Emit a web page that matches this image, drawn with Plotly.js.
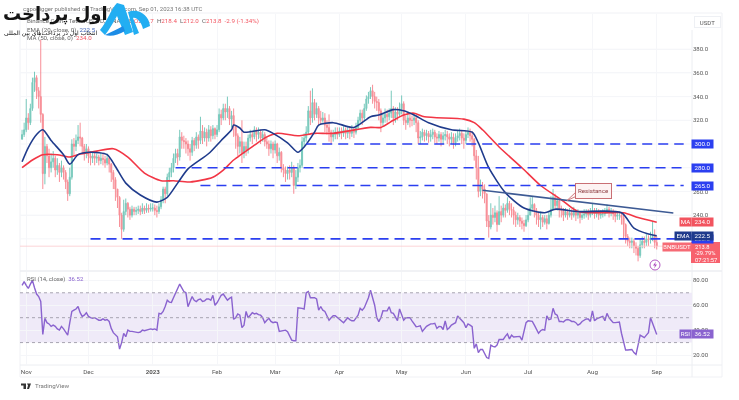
<!DOCTYPE html>
<html><head><meta charset="utf-8">
<script src="https://cdn.plot.ly/plotly-3.0.1.min.js"></script>
<style>
html,body{margin:0;padding:0;background:#fff;width:739px;height:400px;overflow:hidden}
#wrap{position:relative;width:739px;height:400px;filter:blur(0.55px)}
#chart{position:absolute;left:0;top:0;width:739px;height:400px}
#over{position:absolute;left:0;top:0;width:739px;height:400px;pointer-events:none}
</style></head><body>
<div id="wrap"><div id="chart"></div>
<svg id="over" viewBox="0 0 739 400">
  <path d="M100,30 C107,22 111,9 117,3 L124,5 L133,32 L125,35 L117,16 C113,23 109,30 105,35 Z" fill="#22aef2"/>
  <path d="M105,35 C111,32 118,29 123,26 L125,31 C118,35 111,37 105,35 Z" fill="#1c8ce6"/>
  <path d="M128,12 C138,8 149,15 150,26 L143,29 C141,21 136,17 133,18 L139,33 L134,35 Z" fill="#22aef2"/>
  <circle cx="655" cy="265" r="5" fill="#fff" stroke="#ab47bc" stroke-width="0.9"/>
  <path d="M656,261.5 L653,265.5 L655,265.5 L654,268.5 L657,264.5 L655,264.5 Z" fill="#ab47bc"/>
  <path d="M21,383.5 H26 V389 H23.5 V385.5 H21 Z M27,383.5 H31 L29,389 H27 L28,385.5 Z" fill="#333"/>
</svg>
</div>
<script>
const closes=[
308,312,322,318,330,352,356,345,340,325,
275,298,290,280,285,288,278,282,276,280,
276,268,258,272,300,298,303,306,305,298,
292,296,290,288,290,288,289,286,288,287,
284,288,283,276,270,262,255,240,228,243,
250,245,240,245,243,244,245,243,246,244,
246,245,246,246,244,243,247,253,262,258,
272,276,280,288,292,289,306,303,302,300,
296,293,303,299,306,303,311,305,310,305,
312,307,313,308,312,325,322,330,327,330,
321,324,315,307,298,302,292,298,295,305,
308,306,312,308,310,305,308,302,300,296,
300,295,300,290,293,280,278,275,278,276,
280,265,272,280,282,302,305,310,328,322,
335,325,330,322,320,322,316,314,310,306,
308,310,308,311,309,312,309,311,309,312,
310,314,320,326,322,330,338,340,345,340,
336,335,328,318,322,325,323,326,330,322,
327,325,330,334,320,318,322,320,320,322,
318,305,306,310,307,309,306,308,310,306,
305,308,304,307,308,306,304,306,301,305,
307,309,305,303,308,310,307,304,290,280,
260,265,262,258,235,230,240,238,242,232,
243,240,246,244,250,245,244,240,236,238,
235,233,231,236,240,246,249,244,240,236,
238,234,237,233,240,245,255,248,252,245,
244,240,243,240,242,240,243,240,242,238,
240,241,242,240,243,244,241,243,240,241,
241,243,245,242,243,241,239,240,240,238,
232,222,218,217,218,214,212,206,215,218,
217,220,219,221,222,217,213.8];
const highs=[
312,318,338,326,334,356,361,358,348,388,
326,306,300,296,292,294,290,288,284,286,
282,278,270,280,304,305,308,316,318,306,
300,300,298,294,294,293,292,291,293,292,
290,292,289,284,278,272,262,256,242,253,
254,251,247,248,247,247,248,248,250,248,
250,249,250,250,249,248,250,256,264,264,
275,280,284,292,296,296,312,310,307,305,
303,300,306,305,310,308,323,316,314,313,
316,315,316,314,316,330,329,334,334,340,
332,328,330,316,309,306,320,302,302,308,
312,311,315,314,314,312,311,310,306,303,
303,302,303,301,297,294,283,281,281,282,
285,282,278,284,287,306,309,315,332,345,
347,338,335,332,328,327,326,320,325,312,
312,314,314,314,314,315,314,315,315,316,
314,318,323,329,329,334,341,344,348,350,
344,340,338,330,326,330,329,330,345,332,
331,331,335,341,336,324,326,325,324,326,
324,320,311,313,312,312,311,312,313,312,
309,311,310,310,312,311,309,310,309,309,
311,313,312,309,311,314,313,311,305,295,
290,270,268,266,258,240,250,246,248,244,
256,248,250,249,255,252,250,247,243,242,
240,238,236,240,245,255,256,250,246,243,
243,240,240,240,243,256,262,258,255,254,
248,246,246,245,246,245,247,245,245,243,
243,245,245,245,246,250,246,246,245,244,
245,246,249,247,246,245,243,243,243,242,
240,233,224,221,221,220,217,214,220,222,
222,224,223,226,235,228,222];
const lows=[
304,306,310,312,316,328,344,338,330,318,
262,266,284,272,276,280,272,274,268,272,
270,262,252,256,270,290,294,300,298,292,
286,288,284,282,284,282,284,282,283,282,
280,282,276,268,262,252,246,230,220,226,
240,238,236,238,240,240,241,240,241,241,
242,242,243,243,240,238,241,245,250,250,
256,268,272,276,284,282,286,296,296,292,
290,286,290,294,296,296,300,300,302,298,
302,302,304,304,306,310,316,320,320,322,
316,314,306,296,290,292,284,288,290,292,
302,300,304,302,304,300,302,298,296,290,
292,288,292,284,286,276,272,268,270,270,
272,258,262,268,276,280,298,302,308,316,
318,320,322,316,316,318,310,308,302,300,
302,304,304,306,304,306,304,305,304,306,
305,308,312,318,316,320,328,334,338,334,
330,328,320,310,315,318,318,320,322,316,
318,320,323,325,316,312,316,314,315,316,
310,300,300,303,302,303,301,302,304,301,
300,302,298,300,303,300,298,300,296,298,
302,303,300,296,300,305,302,298,286,270,
255,256,254,250,230,221,228,232,234,226,
232,234,238,238,242,240,238,232,230,232,
230,228,226,230,234,240,243,238,232,230,
228,230,232,228,232,238,244,244,244,238,
238,235,238,236,238,236,238,235,237,233,
236,237,238,236,238,240,237,238,236,237,
238,239,241,238,239,236,234,236,236,232,
220,216,214,212,212,208,206,201,204,212,
212,214,214,216,218,212,211];
const rsiValues=[
76,79,76,73.5,77,80,74,69,67,63,
36.6,49.5,46,45,43,44,43,41,40,43,
41,38,36,46,55,56,57,59,54,51,
52,54,51,50,49.5,50,49,48,48,49,
48,48.5,47,41.4,38,36,34.7,24.8,30,37.4,
34.7,40,39,39,38.5,38.5,38,38.5,40,39.5,
40,40,41,40.5,41,40,53.5,53,55,59,
64,62.5,62.3,66,69.6,73,77,74,71,70,
58.8,63,66.9,64,63,64.5,65,63,63.5,65,
65,64,68,60,62,65,68,69,66,64,
65.5,66.5,48.7,50,53,52,42,44,55,50,
52,54,53,53.5,52.5,52,50,46,48,49.5,
47,46,46.5,46,39,39.5,39.5,40,38.8,35,
32,31.5,31.5,58,58,57.5,57,70,71,66,
66,66,65,56,59,56,55,52,48,50,
51.5,51.5,50,49,47.5,46,48,50,48.5,47.5,
47.5,50,52,57.5,56,58,62,66,72,65.5,
60,50,46.8,50,55.6,55.5,55.5,58.8,54,53.5,
51,47.6,57,52,48,50,50,50,47.5,45,
42.8,43,43.5,39,41,43,44,45,45,45.5,
41.4,43,42.8,40.5,47.5,40.5,42,44,45,46,
51.4,49.5,48.5,46,42,45,44,42.8,25.4,29,
22,24.5,24.5,21,18,17.3,28,27,26.5,28,
32.5,32.5,32.5,35,37,33,36,34.5,34.5,34.5,
35,32,38,46,47.5,47.5,47,44,41,37.5,
39.5,40.5,40,51.4,48.5,49,57.5,53,52,47,
47,46.5,48,48.5,48,47,47,46,44,45,
47,48,49,49,47,55.5,47.5,49,50,50.5,
51,47.5,53.5,50,48,46,46,46.5,46.5,37.5,
30,24,24,24,24.5,22,20.5,28,36,35,
34,36,38,50,45,40,36.52];
const emaDays=[0,3,7,10,14,20,23,27,33,41,45,50,57,65,70,75,80,90,96,101,102,105,107,117,121,128,133,136,141,143,150,160,168,172,179,184,189,196,207,217,220,225,233,242,252,257,268,289,295,302,306];
const emaValues=[285,297,308,312,303,291,283,291,293,291,281,267,257,251,255,267,279,292,303,312,316,313.5,310,312,309,301,293,297.5,310,316,318,314,323,324.5,329,328,324.5,318,312,310,301,280,259,246,242,245,243,242,229,224,222.5];
const maDays=[0,5,10,17,23,28,36,44,51,59,67,73,81,92,97,102,112,118,123,133,141,150,168,173,179,184,189,194,213,218,222,230,241,250,260,268,281,290,297,306];
const maValues=[280,286.5,291,291,289,291.5,294,296,289,275.5,269,269,268,272,278,286.5,299,306,309,307,309,309,314,314,320,324.5,326,323,321,318,312,297.5,280,265,253,243,242,242,238,234];
const levels=[300,280,265,220];
const levelStartDays=[137,74,86,33];
const levelEndDay=319;
const trendDays=[222,314];
const trendValues=[261,241.8];
const monthDays=[2,32,63,94,122,153,183,214,244,275,306];
const monthLabels=['Nov','Dec','<b>2023</b>','Feb','Mar','Apr','May','Jun','Jul','Aug','Sep'];
const priceTicks=[240,260,320,340,360,380];
const gridPrices=[220,240,260,280,300,320,340,360,380];
const rsiTicks=[20,40,60,80];
const lastPrice=213.8, lastMA=234.0, lastEMA=222.5, lastRSI=36.52;

const day0=Date.UTC(2022,9,30);
const D=i=>new Date(day0+i*864e5).toISOString().slice(0,10);
const dates=closes.map((_,i)=>D(i));
const opens=closes.map((c,i)=>i?closes[i-1]:304);
const P0=20,P1=692,T=14,B=365;
const xp=p=>(p-P0)/(P1-P0), yp=p=>(B-p)/(B-T);
const BLUE='#2b3ff0', NAVY='#1f3b8c', RED='#f2545f', PUR='#8a63cf';
const FONT='Roboto, "Liberation Sans", sans-serif';

const traces=[
 {type:'candlestick',x:dates,open:opens,high:highs,low:lows,close:closes,xaxis:'x',yaxis:'y',
  increasing:{line:{color:'#45b5a3',width:1},fillcolor:'#45b5a3'},
  decreasing:{line:{color:'#f5626e',width:1},fillcolor:'#f5626e'},opacity:0.72,hoverinfo:'skip'},
 {type:'scatter',mode:'lines',x:maDays.map(D),y:maValues,line:{color:'#f23645',width:1.6,shape:'spline',smoothing:0.7},xaxis:'x',yaxis:'y',hoverinfo:'skip'},
 {type:'scatter',mode:'lines',x:emaDays.map(D),y:emaValues,line:{color:NAVY,width:1.6,shape:'spline',smoothing:0.7},xaxis:'x',yaxis:'y',hoverinfo:'skip'},
 {type:'scatter',mode:'lines',x:dates,y:rsiValues,line:{color:PUR,width:1.4},xaxis:'x',yaxis:'y2',hoverinfo:'skip'}
];

const shapes=[
 {type:'rect',xref:'paper',yref:'paper',x0:xp(20),x1:xp(722),y0:yp(377),y1:yp(13),line:{color:'#f0f1f5',width:1},layer:'below'},
 {type:'line',xref:'paper',yref:'paper',x0:xp(20),x1:xp(722),y0:yp(271),y1:yp(271),line:{color:'#eceef2',width:1.5},layer:'below'},
 {type:'line',xref:'paper',yref:'paper',x0:xp(20),x1:xp(722),y0:yp(365),y1:yp(365),line:{color:'#eceef2',width:1},layer:'below'},
 {type:'line',xref:'paper',yref:'paper',x0:xp(692),x1:xp(692),y0:yp(377),y1:yp(30),line:{color:'#eceef2',width:1},layer:'below'},
 {type:'rect',xref:'paper',yref:'y2',x0:0,x1:1,y0:30,y1:70,fillcolor:'#efeaf8',line:{width:0},layer:'below'},
 {type:'line',xref:'paper',yref:'y2',x0:0,x1:1,y0:70,y1:70,line:{color:'#a7a3b0',width:1,dash:'3px,3px'}},
 {type:'line',xref:'paper',yref:'y2',x0:0,x1:1,y0:50,y1:50,line:{color:'#a7a3b0',width:1,dash:'3px,3px'}},
 {type:'line',xref:'paper',yref:'y2',x0:0,x1:1,y0:30,y1:30,line:{color:'#a7a3b0',width:1,dash:'3px,3px'}},
 {type:'line',xref:'paper',yref:'y',x0:0,x1:1,y0:lastPrice,y1:lastPrice,line:{color:'#fbc9cd',width:0.8}},
 {type:'line',xref:'x',yref:'y',x0:D(trendDays[0]),x1:D(trendDays[1]),y0:trendValues[0],y1:trendValues[1],line:{color:'#3d5a94',width:1.7}},
 {type:'path',xref:'paper',yref:'paper',path:`M${xp(577)},${yp(191)} L${xp(567)},${yp(200.5)} L${xp(577)},${yp(196)} Z`,fillcolor:'#fdf3f3',line:{color:'#c96f74',width:0.9}},
 {type:'rect',xref:'paper',yref:'paper',x0:xp(691),x1:xp(720),y0:yp(263),y1:yp(242),fillcolor:'#f7616d',line:{width:0}}
];
gridPrices.forEach(v=>shapes.push({type:'line',xref:'paper',yref:'y',x0:0,x1:1,y0:v,y1:v,line:{color:'#f5f6f9',width:1},layer:'below'}));
levels.forEach((v,k)=>shapes.push({type:'line',xref:'x',yref:'y',x0:D(levelStartDays[k]),x1:D(levelEndDay),y0:v,y1:v,line:{color:BLUE,width:1.6,dash:'10px,6px'}}));

const txt=(x,y,t,o={})=>Object.assign({xref:'paper',yref:'paper',x:xp(x),y:yp(y),text:t,showarrow:false,xanchor:'left',yanchor:'middle',font:{family:FONT,size:6.2,color:'#666'}},o);
const box=(x,val,t,bg,w,yref)=>({xref:'paper',yref:yref||'y',x:xp(x),y:val,text:t,showarrow:false,xanchor:'left',yanchor:'middle',width:w,height:7,align:'center',bgcolor:bg,borderpad:0.5,font:{family:FONT,size:6.2,color:'#fff'}});
const annotations=[
 txt(21,8,'capodigger published on TradingView.com, Sep 01, 2023 16:38 UTC',{font:{family:FONT,size:6,color:'#777'}}),
 txt(25,21,'Binance Coin / TetherUS, 1D, BINANCE <span style="color:#f2545f">O216.7</span>  H<span style="color:#f2545f">218.4</span>  L<span style="color:#f2545f">212.0</span>  C<span style="color:#f2545f">213.8  -2.9 (-1.34%)</span>'),
 txt(25,30,'EMA (20, close, 0)  <span style="color:#3b5fb5">222.5</span>'),
 txt(25,38,'MA (50, close, 0)  <span style="color:#f2545f">234.0</span>'),
 txt(25,279,'RSI (14, close)  <span style="color:#8a63cf">36.52</span>',{font:{family:FONT,size:6,color:'#666'}}),
 txt(33,386,'TradingView',{font:{family:FONT,size:6.2,color:'#777'}}),
 txt(1,14,'<b>اول پرداخت</b>',{font:{family:'"DejaVu Sans"',size:18,color:'#141414'}}),
 txt(2,33,'انتخاب اول در پرداخت‌های بین المللی',{font:{family:'"DejaVu Sans"',size:6,color:'#111'}}),
 {xref:'paper',yref:'paper',x:xp(694),y:yp(22),text:'USDT',showarrow:false,xanchor:'left',yanchor:'middle',font:{family:FONT,size:6,color:'#555'},bgcolor:'#fff',bordercolor:'#eef0f4',borderwidth:1,borderpad:1.5,width:22},
 {xref:'paper',yref:'paper',x:xp(593),y:yp(190.5),text:'Resistance',showarrow:false,xanchor:'center',yanchor:'middle',width:34,height:13,bgcolor:'#fdf3f3',bordercolor:'#c96f74',borderwidth:1,borderpad:0.5,font:{family:FONT,size:6.2,color:'#8c3a3f'}},
 box(691,300,'300.0',BLUE,20), box(691,280,'280.0',BLUE,20), box(691,265,'265.0',BLUE,20), box(691,220,'220.0',BLUE,20),
 box(679,lastMA,'MA',RED,10), box(691,lastMA,'234.0',RED,20),
 box(674,lastEMA,'EMA',NAVY,15), box(691,lastEMA,'222.5',NAVY,20),
 box(662,lastPrice-0.7,'BNBUSDT','#f66a75',27),
 txt(692.5,247,'213.8',{font:{family:FONT,size:5.8,color:'#fff'}}),
 txt(692.5,253,'-29.79%',{font:{family:FONT,size:5.8,color:'#fff'}}),
 txt(692.5,259.5,'07:21:57',{font:{family:FONT,size:5.8,color:'#fff'}}),
 box(679,lastRSI,'RSI',PUR,10,'y2'), box(691,lastRSI,'36.52',PUR,20,'y2')
];

const layout={
 width:739,height:400,margin:{l:P0,r:739-P1,t:T,b:400-B},paper_bgcolor:'#fff',plot_bgcolor:'#fff',showlegend:false,hovermode:false,dragmode:false,
 font:{family:FONT,size:6.2,color:'#555'},
 xaxis:{type:'date',anchor:'y2',domain:[0,1],range:[D(-0.8),D(323.8)],tickmode:'array',tickvals:monthDays.map(D),ticktext:monthLabels,
   showgrid:true,gridcolor:'#f5f6f9',gridwidth:1,zeroline:false,showline:false,ticks:'',tickfont:{size:6.2,color:'#555'},rangeslider:{visible:false},ticklabelstandoff:2},
 yaxis:{domain:[(B-270)/(B-T),1],range:[193.7,409.7],side:'right',anchor:'x',tickmode:'array',tickvals:priceTicks,ticktext:priceTicks.map(v=>v.toFixed(1)),
   showgrid:true,gridcolor:'#f5f6f9',zeroline:false,showline:false,ticks:'',tickfont:{size:6,color:'#555'}},
 yaxis2:{domain:[0,(B-272)/(B-T)],range:[12,86.7],side:'right',anchor:'x',tickmode:'array',tickvals:rsiTicks,ticktext:rsiTicks.map(v=>v.toFixed(2)),
   showgrid:true,gridcolor:'#f5f6f9',zeroline:false,showline:false,ticks:'',tickfont:{size:6,color:'#555'}},
 shapes,annotations
};
Plotly.newPlot('chart',traces,layout,{displayModeBar:false,staticPlot:true});
</script></body></html>
